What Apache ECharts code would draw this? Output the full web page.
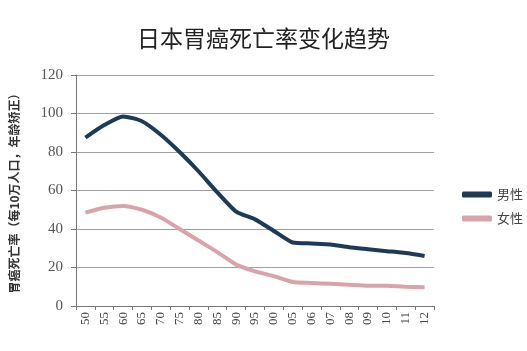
<!DOCTYPE html>
<html><head><meta charset="utf-8">
<script src="https://cdn.jsdelivr.net/npm/echarts@6/dist/echarts.min.js"></script>
<style>html,body{margin:0;padding:0;background:#fff}#c{width:527px;height:351px}</style>
</head><body><div id="c"></div>
<script>
const categories = ['50','55','60','65','70','75','80','85','90','95','00','05','06','07','08','09','10','11','12'];
const male = [87.5, 94, 98.5, 96, 89, 80, 70, 59, 49, 45, 39, 33, 32.5, 32, 30.5, 29.5, 28.5, 27.5, 26];
const female = [48.5, 51, 52, 50, 46, 40, 34, 28, 21.5, 18, 15.5, 12.5, 12, 11.5, 11, 10.5, 10.5, 10, 9.8];
const yTicks = [0, 20, 40, 60, 80, 100, 120];

const chart = echarts.init(document.getElementById('c'));
chart.setOption({
  animation: false,
  title: {
    text: '日本胃癌死亡率变化趋势', left: 'center', top: 22,
    textStyle: {fontFamily: 'Noto Sans CJK SC', fontSize: 23, fontWeight: 'normal', color: '#222'}
  },
  legend: {
    orient: 'vertical', left: 457, top: 183, itemGap: 11,
    itemWidth: 30, itemHeight: 6, icon: 'roundRect',
    textStyle: {fontFamily: 'Noto Sans CJK SC', fontSize: 13, color: '#444'},
    data: ['男性', '女性']
  },
  grid: {left: 76, right: 93, top: 75, bottom: 45},
  xAxis: {
    type: 'category', data: categories, boundaryGap: true,
    axisLine: {lineStyle: {color: '#777'}},
    axisTick: {show: true, alignWithLabel: false, lineStyle: {color: '#777'}, length: 4},
    axisLabel: {rotate: 90, fontFamily: 'Liberation Serif', fontSize: 13, color: '#444', margin: 6}
  },
  yAxis: {
    type: 'value', min: yTicks[0], max: yTicks[yTicks.length - 1], interval: 20,
    name: '胃癌死亡率（每10万人口，年龄矫正）', nameLocation: 'middle', nameGap: 56, nameRotate: 90,
    nameTextStyle: {fontFamily: 'Noto Sans CJK SC', fontSize: 12, fontWeight: 'bold', color: '#333'},
    axisLine: {show: true, lineStyle: {color: '#777'}},
    axisTick: {show: true, inside: false, length: 5, lineStyle: {color: '#777'}},
    axisLabel: {fontFamily: 'Liberation Serif', fontSize: 15, color: '#555', margin: 13},
    splitLine: {lineStyle: {color: '#a0a0a0', width: 1}}
  },
  series: [
    {name: '男性', type: 'line', data: male, smooth: 0.2, symbol: 'none',
     lineStyle: {color: '#1f3a57', width: 4}, itemStyle: {color: '#1f3a57'}},
    {name: '女性', type: 'line', data: female, smooth: 0.2, symbol: 'none',
     lineStyle: {color: '#d9a3ab', width: 4}, itemStyle: {color: '#d9a3ab'}}
  ]
});
</script></body></html>
